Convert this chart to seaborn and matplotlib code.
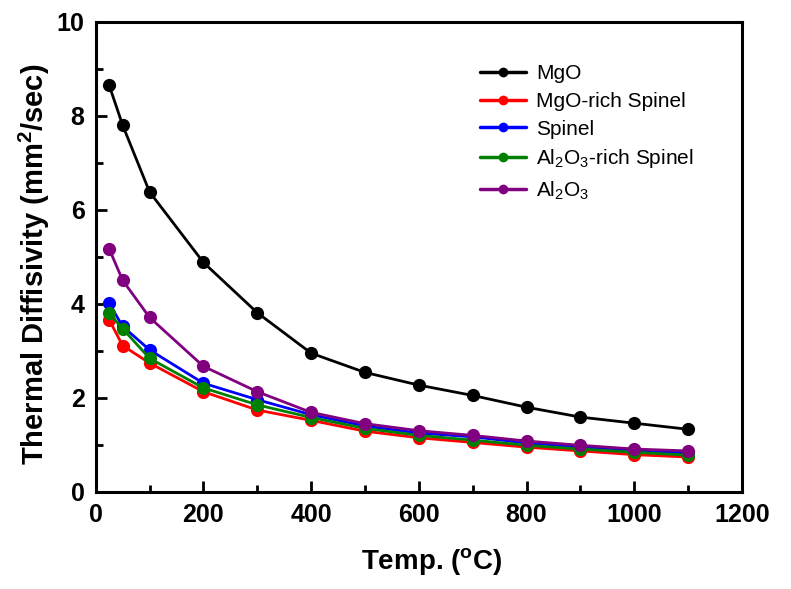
import pandas as pd
import seaborn as sns
import matplotlib.pyplot as plt
from matplotlib.lines import Line2D
from matplotlib.ticker import MultipleLocator

# temperatures (C) and thermal diffusivity (mm^2/sec)
temps = [25, 50, 100, 200, 300, 400, 500, 600, 700, 800, 900, 1000, 1100]

mgo = [8.65, 7.80, 6.38, 4.88, 3.81, 2.95, 2.54, 2.27, 2.05, 1.80, 1.59, 1.46, 1.33]
mgo_rich = [3.66, 3.11, 2.74, 2.13, 1.74, 1.52, 1.29, 1.15, 1.05, 0.95, 0.87, 0.79, 0.74]
spinel = [4.01, 3.52, 3.02, 2.31, 1.96, 1.64, 1.40, 1.25, 1.17, 1.04, 0.95, 0.88, 0.82]
al2o3_rich = [3.80, 3.47, 2.84, 2.21, 1.85, 1.58, 1.35, 1.20, 1.10, 0.99, 0.91, 0.84, 0.78]
al2o3 = [5.17, 4.50, 3.71, 2.67, 2.13, 1.69, 1.45, 1.30, 1.20, 1.08, 0.99, 0.91, 0.87]

labels = ['MgO', 'MgO-rich Spinel', 'Spinel',
          r'Al$_2$O$_3$-rich Spinel', r'Al$_2$O$_3$']
colors = ['black', '#ff0000', '#0000ff', '#008000', '#800080']

# long-form table for seaborn
frames = []
for name, vals in zip(labels, [mgo, mgo_rich, spinel, al2o3_rich, al2o3]):
    frames.append(pd.DataFrame({'Temp': temps, 'Diff': vals, 'Sample': name}))
df = pd.concat(frames, ignore_index=True)

sns.set_style('ticks')
plt.rcParams['font.family'] = ['Liberation Sans', 'DejaVu Sans']
plt.rcParams['mathtext.fontset'] = 'custom'
plt.rcParams['mathtext.rm'] = 'Liberation Sans'
plt.rcParams['mathtext.bf'] = 'Liberation Sans:bold'
for key in ['text.color', 'axes.labelcolor', 'xtick.color', 'ytick.color']:
    plt.rcParams[key] = 'black'

fig, ax = plt.subplots(figsize=(7.91, 5.89), dpi=100)
fig.subplots_adjust(left=0.121, right=0.938, top=0.963, bottom=0.165)

sns.lineplot(data=df, x='Temp', y='Diff', hue='Sample', hue_order=labels,
             palette=colors, marker='o', markersize=9.5, markeredgewidth=0,
             linewidth=2.0, legend=False, ax=ax)

ax.set_xlim(0, 1200)
ax.set_ylim(0, 10)
ax.xaxis.set_major_locator(MultipleLocator(200))
ax.xaxis.set_minor_locator(MultipleLocator(100))
ax.yaxis.set_major_locator(MultipleLocator(2))
ax.yaxis.set_minor_locator(MultipleLocator(1))
ax.tick_params(which='both', direction='in', top=False, right=False, width=2)
ax.tick_params(which='major', length=8)
ax.tick_params(which='minor', length=5)
for s in ax.spines.values():
    s.set_linewidth(2.2)
    s.set_color('black')

for lab in ax.get_xticklabels() + ax.get_yticklabels():
    lab.set_weight('bold')
    lab.set_size(18)
ax.tick_params(axis='x', pad=8)
ax.tick_params(axis='y', pad=8)

ax.set_xlabel(r'Temp. ($\mathbf{^o}$C)', weight='bold', size=20)
ax.xaxis.set_label_coords(0.52, -0.115)
ax.set_ylabel(r'Thermal Diffisivity (mm$\mathbf{^2}$/sec)', weight='bold', size=21)
ax.yaxis.set_label_coords(-0.068, 0.485)

handles = [Line2D([0], [0], color=c, lw=2.5, marker='o', markersize=7,
                  markeredgewidth=0) for c in colors]
ax.legend(handles, labels, loc='upper right', bbox_to_anchor=(0.955, 0.95),
          frameon=False, fontsize=15, handlelength=2.2, labelspacing=0.42,
          handletextpad=0.5)

fig.savefig('out.png', dpi=100)
